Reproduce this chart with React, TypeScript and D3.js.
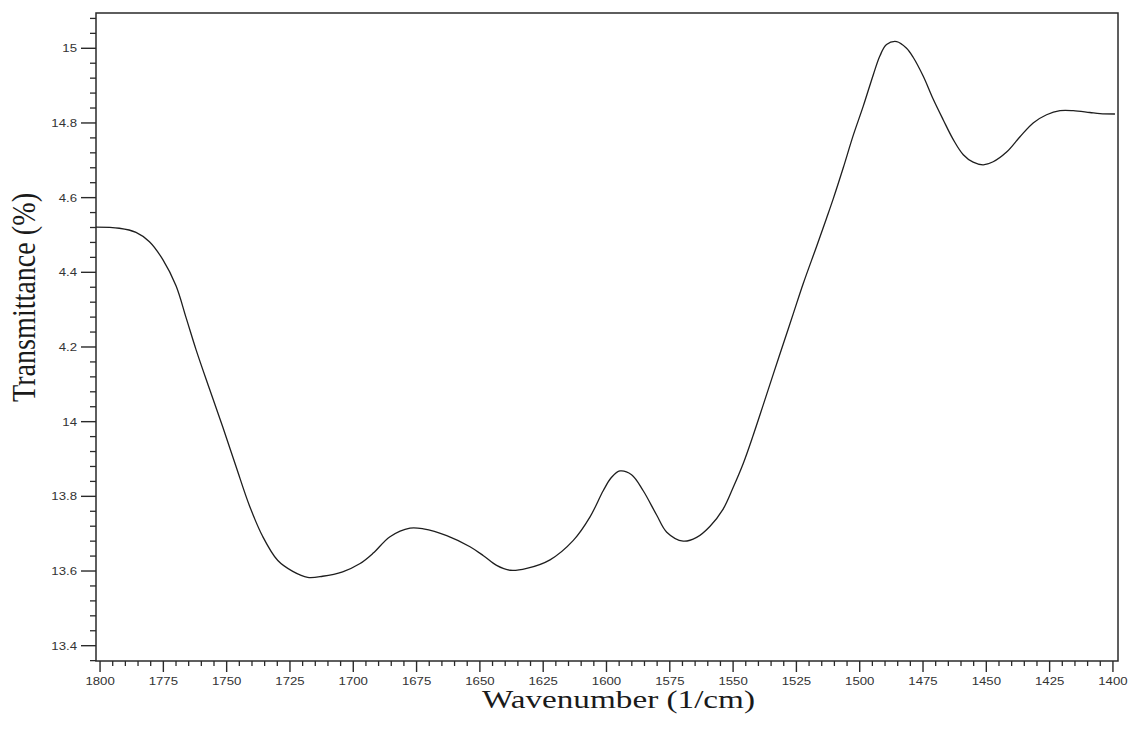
import React from "react";
import * as d3 from "d3";

// FTIR spectrum: wavenumber (1/cm) vs transmittance (%)
const wavenumber = [
  1801.6, 1792.4, 1785.8, 1780.5, 1775.2, 1770.0, 1766.0, 1762.1, 1756.8, 1751.6,
  1746.3, 1741.0, 1735.8, 1729.8, 1723.9, 1718.0, 1712.1, 1704.2, 1697.3, 1692.1,
  1685.5, 1677.6, 1672.3, 1663.1, 1653.9, 1648.6, 1643.4, 1638.1, 1631.5, 1622.3,
  1613.1, 1606.5, 1601.3, 1598.0, 1594.7, 1590.1, 1585.5, 1580.2, 1576.2, 1569.7,
  1564.4, 1559.1, 1554.0, 1549.9, 1546.0, 1542.0, 1538.1, 1534.1, 1530.2, 1526.2,
  1522.3, 1517.0, 1513.1, 1510.4, 1506.5, 1502.5, 1498.6, 1494.6, 1492.0, 1489.4,
  1485.4, 1481.5, 1478.9, 1474.9, 1471.0, 1467.0, 1463.1, 1459.1, 1455.2, 1451.2,
  1447.3, 1442.0, 1436.7, 1431.5, 1426.2, 1420.9, 1415.7, 1409.1, 1405.1, 1399.2,
];

const transmittance = [
  14.521, 14.518, 14.507, 14.482, 14.434, 14.364, 14.278, 14.193, 14.088, 13.987,
  13.880, 13.775, 13.693, 13.628, 13.599, 13.583, 13.586, 13.598, 13.620, 13.648,
  13.692, 13.715, 13.713, 13.695, 13.665, 13.641, 13.615, 13.602, 13.607, 13.630,
  13.682, 13.745, 13.815, 13.851, 13.868, 13.858, 13.815, 13.750, 13.704, 13.680,
  13.690, 13.720, 13.765, 13.825, 13.888, 13.965, 14.045, 14.128, 14.208, 14.290,
  14.370, 14.470, 14.545, 14.598, 14.680, 14.768, 14.845, 14.930, 14.980, 15.010,
  15.018, 15.000, 14.976, 14.925, 14.864, 14.808, 14.756, 14.715, 14.695, 14.688,
  14.696, 14.722, 14.763, 14.800, 14.822, 14.833, 14.833, 14.828, 14.825, 14.824,
];

const xTickValues = [
  1800, 1775, 1750, 1725, 1700, 1675, 1650, 1625, 1600,
  1575, 1550, 1525, 1500, 1475, 1450, 1425, 1400,
];

const yTickValues = [13.4, 13.6, 13.8, 14.0, 14.2, 14.4, 14.6, 14.8, 15.0];
const yTickLabels = ["13.4", "13.6", "13.8", "14", "4.2", "4.4", "4.6", "14.8", "15"];

const xTitle = "Wavenumber (1/cm)";
const yTitle = "Transmittance (%)";

export default function App() {
  const width = 1128;
  const height = 739;
  const left = 96;
  const right = 1118;
  const top = 13;
  const bottom = 661;

  const x = d3.scaleLinear().domain([1801.6, 1398]).range([left, right]);
  const y = d3.scaleLinear().domain([13.359, 15.0945]).range([bottom, top]);

  const points: [number, number][] = wavenumber.map((w, i) => [w, transmittance[i]]);
  const line = d3
    .line<[number, number]>()
    .x((d) => x(d[0]))
    .y((d) => y(d[1]))
    .curve(d3.curveCatmullRom.alpha(0.5));

  const xMinor = d3.range(1400, 1801, 5).filter((v) => v % 25 !== 0);
  const yMinor = d3
    .range(0, 44)
    .map((i) => +(13.36 + i * 0.04).toFixed(2))
    .filter((v) => !yTickValues.some((t) => Math.abs(t - v) < 1e-6));

  const axisColor = "#2a2a2a";
  const labelColor = "#333";
  const tickFont = "'Liberation Sans', Arial, sans-serif";
  const titleFont = "'Liberation Serif', 'Times New Roman', serif";

  return (
    <svg
      width={width}
      height={height}
      style={{ position: "absolute", left: 0, top: 0, background: "#fff" }}
    >
      <rect x={0} y={0} width={width} height={height} fill="#fff" />

      {/* plot frame */}
      <rect
        x={left}
        y={top}
        width={right - left}
        height={bottom - top}
        fill="none"
        stroke={axisColor}
        strokeWidth={1.5}
      />

      {/* x axis ticks */}
      {xMinor.map((v) => (
        <line key={`xm${v}`} x1={x(v)} x2={x(v)} y1={bottom} y2={bottom + 5} stroke={axisColor} strokeWidth={1.3} />
      ))}
      {xTickValues.map((v) => (
        <g key={`xt${v}`}>
          <line x1={x(v)} x2={x(v)} y1={bottom} y2={bottom + 11} stroke={axisColor} strokeWidth={1.4} />
          <text
            transform={`translate(${x(v)},685) scale(1.2,1)`}
            textAnchor="middle"
            fontFamily={tickFont}
            fontSize={11}
            fill={labelColor}
          >
            {v}
          </text>
        </g>
      ))}

      {/* y axis ticks */}
      {yMinor.map((v) => (
        <line key={`ym${v}`} x1={left - 6} x2={left} y1={y(v)} y2={y(v)} stroke={axisColor} strokeWidth={1.3} />
      ))}
      {yTickValues.map((v, i) => (
        <g key={`yt${v}`}>
          <line x1={left - 15} x2={left} y1={y(v)} y2={y(v)} stroke={axisColor} strokeWidth={1.4} />
          <text
            transform={`translate(77,${y(v) + 4}) scale(1.2,1)`}
            textAnchor="end"
            fontFamily={tickFont}
            fontSize={11}
            fill={labelColor}
          >
            {yTickLabels[i]}
          </text>
        </g>
      ))}

      {/* spectrum */}
      <path d={line(points) || ""} fill="none" stroke="#1e1e1e" strokeWidth={1.3} strokeLinejoin="round" />

      {/* axis titles */}
      <text
        x={618.5}
        y={708}
        textAnchor="middle"
        fontFamily={titleFont}
        fontSize={25}
        fill="#1a1a1a"
        textLength={273}
        lengthAdjust="spacingAndGlyphs"
      >
        {xTitle}
      </text>
      <text
        transform={`translate(35,297.5) scale(1.17,1) rotate(-90)`}
        textAnchor="middle"
        fontFamily={titleFont}
        fontSize={28}
        fill="#1a1a1a"
        textLength={209}
        lengthAdjust="spacingAndGlyphs"
      >
        {yTitle}
      </text>
    </svg>
  );
}
